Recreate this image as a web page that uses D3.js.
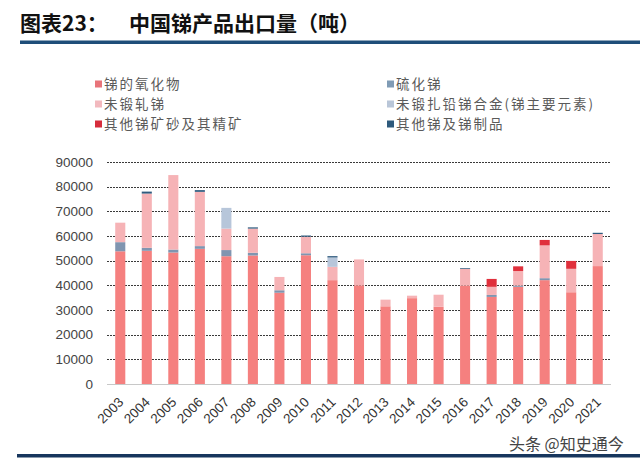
<!DOCTYPE html>
<html>
<head>
<meta charset="utf-8">
<script src="https://cdn.jsdelivr.net/npm/d3@7"></script>
<style>
  html, body { margin: 0; padding: 0; background: #fff; }
  svg { display: block; }
</style>
</head>
<body>
<svg id="chart" width="640" height="464"></svg>
<script>
const years = ["2003","2004","2005","2006","2007","2008","2009","2010","2011","2012","2013","2014","2015","2016","2017","2018","2019","2020","2021"];
const oxide     = [53800, 54000, 53300, 54800, 51800, 52100, 37000, 52200, 42100, 40000, 31500, 34800, 31300, 39900, 35300, 39400, 42100, 37200, 47800];
const sulfide   = [3700, 1200, 1200, 1100, 2500, 1100, 1000, 800, 0, 0, 0, 0, 0, 0, 800, 500, 800, 0, 0];
const unwrought = [7900, 22000, 30200, 22000, 8700, 9800, 5400, 6700, 5400, 10500, 2700, 1000, 4900, 6800, 3300, 5900, 13300, 9500, 13000];
const alloy     = [0, 0, 0, 0, 8400, 0, 0, 0, 3800, 0, 0, 0, 0, 0, 0, 0, 0, 0, 0];
const ore       = [0, 0, 0, 0, 0, 0, 0, 0, 0, 0, 0, 0, 0, 0, 3200, 1900, 2200, 3200, 0];
const other     = [0, 800, 0, 700, 0, 500, 0, 500, 540, 0, 0, 0, 0, 300, 0, 0, 0, 0, 500];
const seriesNames = ["锑的氧化物", "硫化锑", "未锻轧锑", "未锻扎铅锑合金(锑主要元素)", "其他锑矿砂及其精矿", "其他锑及锑制品"];
const barColors    = ["#F5807F", "#8095B0", "#F6B3B6", "#B7C6DA", "#E0303C", "#2F5B7E"];
const legendColors = ["#E8747A", "#7F9BB5", "#F2B9BE", "#B9C6D8", "#D62D3C", "#2E5A7C"];
const yTicks = [0, 10000, 20000, 30000, 40000, 50000, 60000, 70000, 80000, 90000];

const seriesArrays = [oxide, sulfide, unwrought, alloy, ore, other];
const keys = ["oxide","sulfide","unwrought","alloy","ore","other"];
const table = years.map((y, i) => {
  const row = { year: y };
  keys.forEach((k, j) => row[k] = seriesArrays[j][i]);
  return row;
});

const svg = d3.select("#chart");

// Title
svg.append("text")
  .attr("x", 20).attr("y", 31)
  .attr("font-family", "'Noto Sans CJK SC', sans-serif")
  .attr("font-weight", "bold")
  .attr("font-size", 21)
  .attr("fill", "#111")
  .text("图表23：");
svg.append("text")
  .attr("x", 129).attr("y", 31)
  .attr("font-family", "'Noto Sans CJK SC', sans-serif")
  .attr("font-weight", "bold")
  .attr("font-size", 21)
  .attr("fill", "#111")
  .text("中国锑产品出口量（吨）");
svg.append("rect").attr("x", 20).attr("y", 40.5).attr("width", 620).attr("height", 3.5).attr("fill", "#1F4E79");

// Bottom line
svg.append("rect").attr("x", 17).attr("y", 454).attr("width", 623).attr("height", 3.5).attr("fill", "#17365D");

// Scales
const x = d3.scaleBand().domain(years).range([107, 611]).paddingInner(0.62).paddingOuter(0.31);
const y = d3.scaleLinear().domain([0, 90000]).range([384, 162]);

// Gridlines
svg.append("g")
  .selectAll("line")
  .data(yTicks.filter(d => d > 0))
  .join("line")
  .attr("x1", 107).attr("x2", 611)
  .attr("y1", d => Math.round(y(d)) + 0.5).attr("y2", d => Math.round(y(d)) + 0.5)
  .attr("stroke", "#3a3a3a").attr("stroke-width", 1).attr("stroke-dasharray", "2,1");

// Y axis
const yAxis = d3.axisLeft(y).tickValues(yTicks).tickSize(0).tickPadding(0).tickFormat(d3.format("d"));
const gy = svg.append("g").attr("transform", "translate(93,0)").call(yAxis);
gy.select(".domain").remove();
gy.selectAll("text")
  .attr("font-family", "'Liberation Sans', Arial, sans-serif")
  .attr("font-size", 13.5)
  .attr("fill", "#444");

// Stacked bars
const stack = d3.stack().keys(keys);
const stacked = stack(table);
svg.append("g")
  .selectAll("g")
  .data(stacked)
  .join("g")
  .attr("fill", (d, i) => barColors[i])
  .selectAll("rect")
  .data(d => d.filter(s => s[1] - s[0] > 0))
  .join("rect")
  .attr("x", d => x(d.data.year))
  .attr("width", x.bandwidth())
  .attr("y", d => y(d[1]))
  .attr("height", d => y(d[0]) - y(d[1]));

// X axis baseline
svg.append("line").attr("x1", 107).attr("x2", 611).attr("y1", 384.5).attr("y2", 384.5)
  .attr("stroke", "#c8c8c8").attr("stroke-width", 1);

// X labels
const xAxis = d3.axisBottom(x).tickSize(0).tickPadding(0);
const gx = svg.append("g").attr("transform", "translate(0,384)").call(xAxis);
gx.select(".domain").remove();
gx.selectAll(".tick text")
  .attr("font-family", "'Liberation Sans', Arial, sans-serif")
  .attr("font-size", 13.5)
  .attr("fill", "#333")
  .attr("text-anchor", "end")
  .attr("dy", 0)
  .attr("y", 0)
  .attr("transform", "translate(4,19) rotate(-45)");

// Legend
const legendPos = [
  [95, 84], [387, 84],
  [95, 104], [387, 104],
  [95, 124], [387, 124]
];
const legendOrder = [0, 1, 2, 3, 4, 5];
const lg = svg.append("g");
legendOrder.forEach((si, k) => {
  const [lx, ly] = legendPos[k];
  lg.append("rect").attr("x", lx).attr("y", ly - 3.5).attr("width", 7).attr("height", 7).attr("fill", legendColors[si]);
  lg.append("text").attr("x", lx + 9).attr("y", ly + 5)
    .attr("font-family", "'Noto Sans CJK SC', sans-serif")
    .attr("font-size", 13.5)
    .attr("letter-spacing", 2)
    .attr("fill", "#5a5a5a")
    .text(seriesNames[si]);
});

// Watermark
svg.append("text").attr("x", 509).attr("y", 450)
  .attr("font-family", "'Noto Sans CJK SC', sans-serif")
  .attr("font-size", 16)
  .attr("fill", "#444")
  .text("头条 @知史通今");
</script>
</body>
</html>
